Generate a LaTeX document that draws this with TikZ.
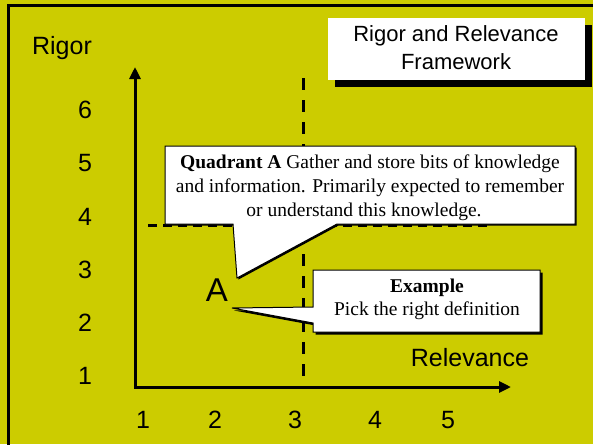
\documentclass[tikz,border=0pt]{standalone}
\usepackage{fontspec}
\setmainfont{Liberation Serif}
\setsansfont{Liberation Sans}
\usetikzlibrary{arrows.meta}
\definecolor{bgyellow}{RGB}{204,204,0}
\begin{document}
\begin{tikzpicture}[x=1pt,y=-1pt,
  sanslbl/.style={font=\sffamily\fontsize{25}{30}\selectfont, inner sep=0pt},
  titlelbl/.style={font=\sffamily\fontsize{22}{26}\selectfont, inner sep=0pt},
  biglbl/.style={font=\sffamily\fontsize{33}{40}\selectfont, inner sep=0pt},
  serifline/.style={font=\fontsize{19.5}{24}\selectfont, inner sep=0pt, anchor=base},
  axisline/.style={line width=3pt, line join=miter, {Triangle[length=12pt,width=11pt]}-{Triangle[length=12pt,width=11pt]}},
  dashline/.style={line width=3pt, dash pattern=on 12pt off 10pt},
  hdashline/.style={line width=2.5pt, dash pattern=on 9pt off 6pt},
  callout/.style={fill=white, draw=black, line width=1pt, line join=miter},
  shadowfill/.style={fill=black}]
\useasboundingbox (0,0) rectangle (593,444);
\fill[bgyellow] (0,0) rectangle (593,444);
\begin{scope}
  \clip (0,0) rectangle (593,444);
  \draw[line width=3pt] (8.5,5.5) rectangle (620,470);
\end{scope}

% axes
\coordinate (ytop) at (135,67);
\coordinate (origin) at (135,387);
\coordinate (xend) at (511,387);
\draw[axisline] (ytop) -- (origin) -- (xend);

% dashed quadrant lines
\coordinate (vtop) at (303,78);
\coordinate (vbot) at (303,385);
\draw[dashline] (vtop) -- (vbot);
\coordinate (hleft) at (148,225.5);
\coordinate (hright) at (487,225.5);
\draw[hdashline] (hleft) -- (hright);

% title box
\fill[shadowfill] (335,25) rectangle (592,87);
\fill[white] (328,18) rectangle (585,80);
\node[titlelbl] (title1) at (456,36) {Rigor and Relevance};
\node[titlelbl] (title2) at (456,62) {Framework};

% axis labels
\node[sanslbl] (rigor) at (62,48) {Rigor};
\node[sanslbl] (relevance) at (470,358) {Relevance};
\node[sanslbl] (y6) at (85,110) {6};
\node[sanslbl] (y5) at (85,163) {5};
\node[sanslbl] (y4) at (85,217) {4};
\node[sanslbl] (y3) at (85,270) {3};
\node[sanslbl] (y2) at (85,323) {2};
\node[sanslbl] (y1) at (85,376) {1};
\node[sanslbl] (x1) at (143,420) {1};
\node[sanslbl] (x2) at (215,420) {2};
\node[sanslbl] (x3) at (295,420) {3};
\node[sanslbl] (x4) at (375,420) {4};
\node[sanslbl] (x5) at (448,420) {5};

% point A
\node[biglbl] (pa) at (217,290) {A};

% Quadrant A callout
\fill[shadowfill] (166.5,147.5) -- (576.5,147.5) -- (576.5,225.5) -- (338.5,225.5) -- (238.5,279.5) -- (234.5,225.5) -- (166.5,225.5) -- cycle;
\draw[callout] (165,146) -- (575,146) -- (575,224) -- (337,224) -- (237,278) -- (233,224) -- (165,224) -- cycle;
\node[serifline] (q1) at (370,168) {\textbf{Quadrant A} Gather and store bits of knowledge};
\node[serifline] (q2) at (370,192) {and information. Primarily expected to remember};
\node[serifline] (q3) at (364,216) {or understand this knowledge.};

% Example callout
\fill[shadowfill] (315.5,272.5) -- (542.5,272.5) -- (542.5,334.5) -- (315.5,334.5) -- (315.5,325.5) -- (234,310.5) -- (315.5,309.5) -- cycle;
\draw[callout] (313,270) -- (540,270) -- (540,332) -- (313,332) -- (313,323) -- (232,308) -- (313,307) -- cycle;
\node[serifline] (e1) at (427,292) {\textbf{Example}};
\node[serifline] (e2) at (427,315) {Pick the right definition};
\end{tikzpicture}
\end{document}
